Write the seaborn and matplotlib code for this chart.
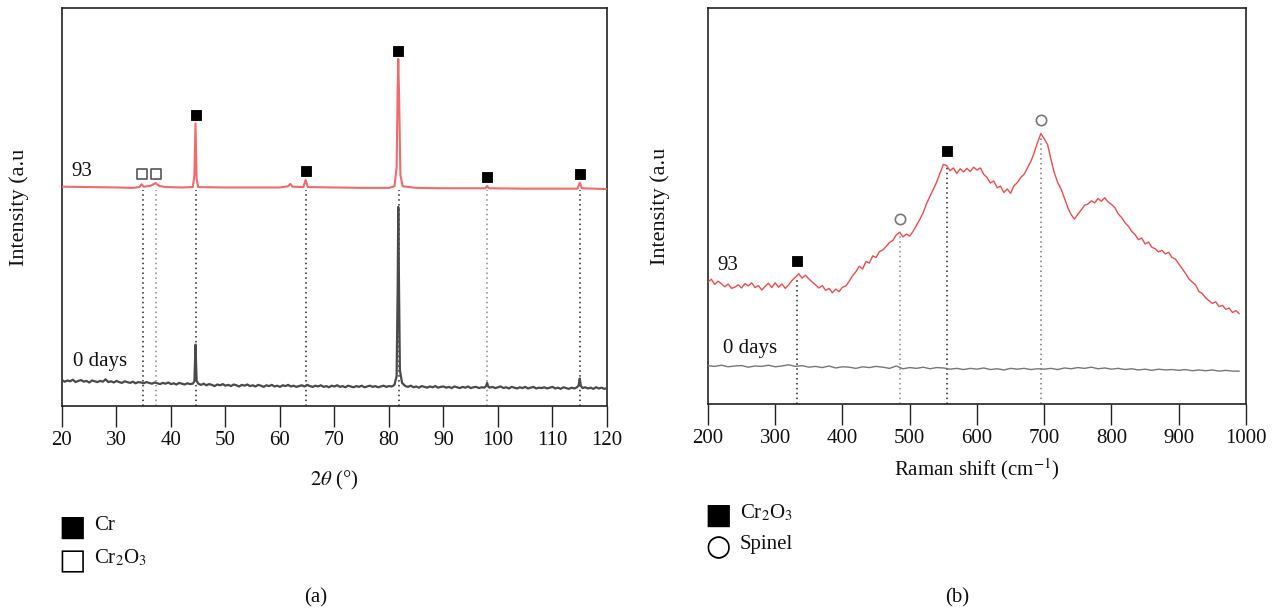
import numpy as np
import pandas as pd
import matplotlib
matplotlib.use("Agg")
import matplotlib.pyplot as plt
import seaborn as sns

# XRD (a) - 93 days trace
xrd_x_93 = [20, 25, 30, 33, 34.2, 34.6, 35.0, 36.2, 37.2, 37.8, 39, 42, 44.0, 44.3, 44.5, 44.7, 45.0,
            50, 55, 60, 61.5, 61.9, 62.3, 64.3, 64.7, 65.1, 70, 75, 80, 81.0, 81.4, 81.6, 81.7, 81.85,
            82.1, 82.5, 85, 90, 95, 97.7, 98.0, 98.3, 105, 110, 114.6, 115.0, 115.4, 120]
xrd_y_93 = [55.1, 55.0, 54.9, 54.8, 55.0, 55.7, 55.1, 55.3, 56.0, 55.3, 55.0, 54.9, 55.0, 58.0, 71.0, 57.0, 55.0,
            54.9, 54.9, 54.9, 55.2, 55.8, 55.1, 55.0, 56.8, 55.0, 54.9, 54.8, 54.8, 55.2, 60.0, 80.0, 87.2, 78.0,
            58.0, 55.2, 54.8, 54.7, 54.7, 54.7, 55.3, 54.7, 54.6, 54.6, 54.6, 56.1, 54.7, 54.5]

# XRD (a) - 0 days trace, (2theta, intensity) pairs
xrd_pts_0 = [
    (20.0, 6.5), (20.5, 6.1), (21.0, 6.4), (21.5, 6.2), (22.0, 6.6), (22.5, 6.0), (23.0, 6.3), (23.5, 6.5),
    (24.0, 6.1), (24.5, 6.3), (25.0, 5.9), (25.5, 6.4), (26.0, 6.2), (26.5, 6.0), (27.0, 6.3), (27.5, 6.1),
    (28.0, 6.7), (28.5, 6.0), (29.0, 6.2), (29.5, 5.9), (30.0, 6.3), (30.5, 6.0), (31.0, 5.8), (31.5, 6.2),
    (32.0, 6.0), (32.5, 5.8), (33.0, 6.1), (33.5, 5.7), (34.0, 6.0), (34.5, 5.9), (35.0, 5.7), (35.5, 6.0),
    (36.0, 5.8), (36.5, 5.6), (37.0, 5.9), (37.5, 5.7), (38.0, 5.5), (38.5, 5.8), (39.0, 5.6), (39.5, 5.9),
    (40.0, 5.5), (40.5, 5.7), (41.0, 5.4), (41.5, 5.8), (42.0, 5.6), (42.5, 5.4), (43.0, 5.7), (43.5, 5.5),
    (44.0, 5.6), (44.3, 6.2), (44.5, 15.4), (44.7, 6.4), (45.0, 5.6), (45.5, 5.3), (46.0, 5.6), (46.5, 5.2),
    (47.0, 5.5), (47.5, 5.3), (48.0, 5.0), (48.5, 5.4), (49.0, 5.2), (49.5, 5.5), (50.0, 5.1), (50.5, 5.3),
    (51.0, 5.0), (51.5, 5.4), (52.0, 5.2), (52.5, 4.9), (53.0, 5.3), (53.5, 5.1), (54.0, 5.4), (54.5, 5.0),
    (55.0, 5.2), (55.5, 4.9), (56.0, 5.3), (56.5, 5.1), (57.0, 4.8), (57.5, 5.2), (58.0, 5.0), (58.5, 5.3),
    (59.0, 4.9), (59.5, 5.1), (60.0, 4.8), (60.5, 5.2), (61.0, 5.0), (61.5, 5.3), (62.0, 4.9), (62.5, 5.1),
    (63.0, 4.8), (63.5, 5.0), (64.0, 5.2), (64.5, 4.9), (65.0, 5.3), (65.5, 5.0), (66.0, 4.8), (66.5, 5.1),
    (67.0, 4.9), (67.5, 5.2), (68.0, 4.8), (68.5, 5.0), (69.0, 4.7), (69.5, 5.1), (70.0, 4.9), (70.5, 5.2),
    (71.0, 4.8), (71.5, 5.0), (72.0, 4.7), (72.5, 5.1), (73.0, 4.9), (73.5, 4.7), (74.0, 5.0), (74.5, 4.8),
    (75.0, 5.1), (75.5, 4.7), (76.0, 4.9), (76.5, 5.1), (77.0, 4.8), (77.5, 5.0), (78.0, 4.7), (78.5, 4.9),
    (79.0, 5.1), (79.5, 4.8), (80.0, 5.0), (80.5, 4.9), (81.0, 5.3), (81.4, 7.5), (81.6, 30.0), (81.7, 50.0),
    (81.8, 35.0), (82.0, 9.0), (82.4, 5.8), (83.0, 5.0), (83.5, 4.8), (84.0, 5.1), (84.5, 4.7), (85.0, 4.9),
    (85.5, 4.6), (86.0, 5.0), (86.5, 4.8), (87.0, 4.6), (87.5, 4.9), (88.0, 4.7), (88.5, 5.0), (89.0, 4.6),
    (89.5, 4.8), (90.0, 4.9), (90.5, 4.6), (91.0, 4.8), (91.5, 4.5), (92.0, 4.9), (92.5, 4.7), (93.0, 4.5),
    (93.5, 4.8), (94.0, 4.6), (94.5, 4.9), (95.0, 4.5), (95.5, 4.7), (96.0, 4.8), (96.5, 4.5), (97.0, 4.7),
    (97.5, 4.6), (97.8, 5.0), (98.0, 5.8), (98.2, 4.9), (98.5, 4.6), (99.0, 4.8), (99.5, 4.5), (100.0, 4.7),
    (100.5, 4.9), (101.0, 4.5), (101.5, 4.7), (102.0, 4.4), (102.5, 4.8), (103.0, 4.6), (103.5, 4.4),
    (104.0, 4.7), (104.5, 4.5), (105.0, 4.8), (105.5, 4.4), (106.0, 4.6), (106.5, 4.8), (107.0, 4.4),
    (107.5, 4.6), (108.0, 4.5), (108.5, 4.7), (109.0, 4.4), (109.5, 4.6), (110.0, 4.8), (110.5, 4.4),
    (111.0, 4.6), (111.5, 4.3), (112.0, 4.7), (112.5, 4.5), (113.0, 4.3), (113.5, 4.6), (114.0, 4.4),
    (114.5, 4.7), (114.8, 5.2), (115.0, 6.9), (115.2, 5.1), (115.5, 4.5), (116.0, 4.7), (116.5, 4.4),
    (117.0, 4.6), (117.5, 4.3), (118.0, 4.7), (118.5, 4.4), (119.0, 4.6), (119.5, 4.3), (120.0, 4.5),
]
xrd_x_0 = [p[0] for p in xrd_pts_0]
xrd_y_0 = [p[1] for p in xrd_pts_0]

# XRD peak markers
cr_peaks_x = [44.5, 64.8, 81.7, 98.0, 115.0]
cr_peaks_y = [73.2, 59.0, 89.3, 57.6, 58.2]
cr2o3_peaks_x = [34.7, 37.3]
cr2o3_peaks_y = [58.2, 58.2]
xrd_lines_x = [34.8, 37.3, 44.6, 64.8, 81.8, 98.0, 115.0]
xrd_lines_col = ["#222222", "#888888", "#222222", "#222222", "#222222", "#888888", "#222222"]

# Raman (b) - 93 days trace
raman_x_93 = list(range(200, 995, 5))
raman_y_93 = [30.8, 31.5, 30.2, 31.0, 30.4, 29.6, 30.3, 29.2, 29.5, 30.1, 29.3, 30.4, 29.8, 30.6, 29.4, 29.9,
              28.8, 29.7, 30.5, 29.4, 30.6, 29.5, 30.3, 29.2, 30.1, 31.2, 32.0, 32.9, 31.8, 32.5, 31.6, 30.8,
              30.1, 29.3, 29.9, 28.7, 29.2, 28.1, 29.0, 28.4, 29.5, 29.8, 31.0, 32.4, 33.4, 34.8, 34.1, 36.0,
              35.6, 37.4, 37.0, 38.5, 38.9, 39.8, 40.8, 41.3, 42.7, 43.4, 42.2, 42.9, 42.4, 43.6, 45.1, 46.6,
              48.3, 50.6, 52.4, 54.2, 56.0, 58.3, 60.5, 60.2, 58.9, 59.6, 58.2, 59.4, 58.6, 59.5, 58.7, 59.8,
              59.1, 59.6, 58.0, 57.2, 55.8, 56.3, 54.6, 55.0, 53.4, 54.3, 53.2, 55.1, 55.9, 57.2, 58.0, 59.6,
              61.2, 63.4, 66.0, 68.3, 67.0, 65.5, 61.8, 58.4, 55.9, 54.3, 52.0, 49.6, 47.8, 46.7, 47.9, 49.0,
              50.2, 50.5, 51.3, 50.8, 51.9, 51.2, 52.1, 51.0, 50.4, 49.6, 48.0, 47.1, 45.8, 44.9, 43.6, 42.8,
              41.5, 41.9, 40.4, 40.9, 39.6, 39.2, 38.4, 38.8, 37.9, 38.3, 37.0, 36.6, 35.4, 34.2, 33.0, 31.6,
              30.8, 30.1, 28.4, 27.9, 26.8, 26.1, 25.4, 25.8, 24.6, 24.9, 23.9, 24.2, 23.1, 23.6, 22.8]

# Raman (b) - 0 days trace
raman_x_0 = list(range(200, 1000, 10))
raman_y_0 = [9.7, 9.5, 9.8, 9.4, 9.6, 9.7, 9.3, 9.6, 9.5, 9.8, 9.4, 9.6, 9.9, 9.5, 9.7, 9.3, 9.5, 9.2, 9.6, 9.1,
             9.4, 9.3, 9.0, 9.4, 9.2, 9.5, 9.3, 9.0, 9.6, 8.9, 9.2, 9.0, 9.3, 8.9, 9.2, 9.1, 8.8, 9.0, 8.7, 9.0,
             8.8, 9.1, 8.7, 8.9, 8.6, 9.0, 8.8, 9.0, 8.7, 8.9, 8.8, 9.0, 8.7, 9.1, 8.9, 9.2, 9.0, 9.3, 8.9, 9.1,
             8.8, 9.0, 8.7, 8.9, 8.6, 8.8, 8.5, 8.8, 8.6, 8.7, 8.5, 8.7, 8.4, 8.6, 8.4, 8.6, 8.3, 8.5, 8.3, 8.3]

# Raman peak markers
raman_cr2o3_x = [333, 555]
raman_cr2o3_y = [36.0, 63.8]
raman_spinel_x = [485, 695]
raman_spinel_y = [46.8, 71.6]
raman_lines_x = [333, 485, 555, 695]
raman_lines_top = [32.0, 42.5, 60.0, 67.5]
raman_lines_col = ["#222222", "#888888", "#222222", "#777777"]

xrd_ticks = [20, 30, 40, 50, 60, 70, 80, 90, 100, 110, 120]
raman_ticks = [200, 300, 400, 500, 600, 700, 800, 900, 1000]

sns.set_theme(style="white")
plt.rcParams['font.family'] = ['Liberation Serif', 'DejaVu Serif']
plt.rcParams['mathtext.fontset'] = 'stix'
plt.rcParams['text.color'] = '#111111'
plt.rcParams['axes.labelcolor'] = '#111111'
plt.rcParams['xtick.color'] = '#111111'

FS = 15
fig = plt.figure(figsize=(12.86, 6.14), dpi=100)
ax1 = fig.add_axes([0.0482, 0.3388, 0.4238, 0.6482])
ax2 = fig.add_axes([0.5505, 0.342, 0.4184, 0.645])

red = "#f26a6a"
dots = (0, (1, 2.2))

# ---- panel (a) ----
df93 = pd.DataFrame({"x": xrd_x_93, "y": xrd_y_93})
df0 = pd.DataFrame({"x": xrd_x_0, "y": xrd_y_0})
for lx, lc in zip(xrd_lines_x, xrd_lines_col):
    ax1.plot([lx, lx], [0, 54.2], color=lc, lw=1.1, ls=dots, zorder=1)
sns.lineplot(data=df93, x="x", y="y", ax=ax1, color=red, lw=1.5, sort=False, estimator=None, zorder=3)
sns.lineplot(data=df0, x="x", y="y", ax=ax1, color="#4a4a4a", lw=1.6, sort=False, estimator=None, zorder=3)
sns.scatterplot(x=cr_peaks_x, y=cr_peaks_y, ax=ax1, marker="s", s=60, color="black", edgecolor="black", zorder=4)
sns.scatterplot(x=cr2o3_peaks_x, y=cr2o3_peaks_y, ax=ax1, marker="s", s=52, facecolor="white",
                edgecolor="#555555", linewidth=1.2, zorder=4)
ax1.text(23.7, 59, "93", fontsize=FS, ha="center", va="center")
ax1.text(26.9, 11.3, "0 days", fontsize=FS, ha="center", va="center")
ax1.set_xlim(20, 120)
ax1.set_ylim(0, 100)
ax1.set_xticks(xrd_ticks)
ax1.set_yticks([])
ax1.set_xlabel(r"$2\theta$ (°)", fontsize=FS, labelpad=14)
ax1.set_ylabel("Intensity (a.u", fontsize=16, labelpad=24)

# ---- panel (b) ----
dr93 = pd.DataFrame({"x": raman_x_93, "y": raman_y_93})
dr0 = pd.DataFrame({"x": raman_x_0, "y": raman_y_0})
for lx, lt, lc in zip(raman_lines_x, raman_lines_top, raman_lines_col):
    ax2.plot([lx, lx], [0, lt], color=lc, lw=1.1, ls=dots, zorder=1)
sns.lineplot(data=dr93, x="x", y="y", ax=ax2, color="#f34a4a", lw=1.0, sort=False, estimator=None, zorder=3)
sns.lineplot(data=dr0, x="x", y="y", ax=ax2, color="#777777", lw=1.0, sort=False, estimator=None, zorder=3)
sns.scatterplot(x=raman_cr2o3_x, y=raman_cr2o3_y, ax=ax2, marker="s", s=60, color="black",
                edgecolor="black", zorder=4)
sns.scatterplot(x=raman_spinel_x, y=raman_spinel_y, ax=ax2, marker="o", s=55, facecolor="white",
                edgecolor="#777777", linewidth=1.2, zorder=4)
ax2.text(230, 35.0, "93", fontsize=FS, ha="center", va="center")
ax2.text(263, 13.9, "0 days", fontsize=FS, ha="center", va="center")
ax2.set_xlim(200, 1000)
ax2.set_ylim(0, 100)
ax2.set_xticks(raman_ticks)
ax2.set_yticks([])
ax2.set_xlabel(r"Raman shift (cm$^{-1}$)", fontsize=FS, labelpad=6)
ax2.set_ylabel("Intensity (a.u", fontsize=16, labelpad=27)

for ax in (ax1, ax2):
    for sp in ax.spines.values():
        sp.set_visible(True)
        sp.set_color("#222222")
        sp.set_linewidth(1.2)
    ax.tick_params(axis="x", direction="out", length=15, width=1.0, color="#222222",
                   labelsize=FS, pad=3, bottom=True)
    if ax.get_legend() is not None:
        ax.get_legend().remove()

# ---- symbol keys below the panels ----
fig.text(72 / 1286, 1 - 528 / 614, "\u25a0", fontsize=21, ha="center", va="center",
         family="DejaVu Sans", color="black")
fig.text(94 / 1286, 1 - 525 / 614, "Cr", fontsize=FS, ha="left", va="center")
fig.text(72 / 1286, 1 - 561 / 614, "\u25a1", fontsize=21, ha="center", va="center",
         family="DejaVu Sans", color="black")
fig.text(94 / 1286, 1 - 558 / 614, r"Cr$_2$O$_3$", fontsize=FS, ha="left", va="center")
fig.text(316 / 1286, 1 - 598 / 614, "(a)", fontsize=FS, ha="center", va="center")

fig.text(718 / 1286, 1 - 516 / 614, "\u25a0", fontsize=21, ha="center", va="center",
         family="DejaVu Sans", color="black")
fig.text(740 / 1286, 1 - 513 / 614, r"Cr$_2$O$_3$", fontsize=FS, ha="left", va="center")
fig.text(718 / 1286, 1 - 547 / 614, "\u25cb", fontsize=21, ha="center", va="center",
         family="DejaVu Sans", color="black")
fig.text(740 / 1286, 1 - 545 / 614, "Spinel", fontsize=FS, ha="left", va="center")
fig.text(957 / 1286, 1 - 598 / 614, "(b)", fontsize=FS, ha="center", va="center")

fig.savefig("out.png", dpi=100, facecolor="white")
